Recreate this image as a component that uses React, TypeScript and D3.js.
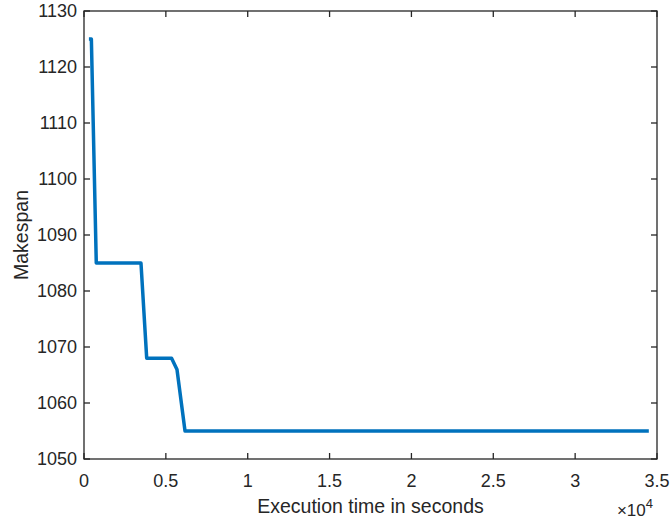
import React from 'react';
import * as d3 from 'd3';

// Makespan trace (time in seconds)
const timeValues = [300, 450, 750, 3480, 3830, 5350, 5680, 6170, 34500];
const makespanValues = [1125, 1125, 1085, 1085, 1068, 1068, 1066, 1055, 1055];
const xTickValues = [0, 5000, 10000, 15000, 20000, 25000, 30000, 35000];
const xTickLabels = ['0', '0.5', '1', '1.5', '2', '2.5', '3', '3.5'];
const yTickValues = [1050, 1060, 1070, 1080, 1090, 1100, 1110, 1120, 1130];

const App = () => {
  const width = 670;
  const height = 525;
  const margin = { top: 11, right: 13, bottom: 66, left: 84 };
  const innerW = width - margin.left - margin.right;
  const innerH = height - margin.top - margin.bottom;

  const x = d3.scaleLinear().domain([0, 35000]).range([0, innerW]);
  const y = d3.scaleLinear().domain([1050, 1130]).range([innerH, 0]);

  const points = timeValues.map((t, i) => [t, makespanValues[i]] as [number, number]);
  const line = d3
    .line<[number, number]>()
    .x((d) => x(d[0]))
    .y((d) => y(d[1]));

  const axisColor = '#262626';
  const font = '"Liberation Sans", Arial, Helvetica, sans-serif';
  const tickLen = 6;

  return (
    <svg
      width={width}
      height={height}
      style={{ position: 'absolute', left: 0, top: 0, background: '#fff' }}
      fontFamily={font}
    >
      <g transform={`translate(${margin.left},${margin.top})`}>
        <path
          d={line(points) || ''}
          fill="none"
          stroke="#0072BD"
          strokeWidth={3.5}
          strokeLinejoin="round"
        />
        <rect x={0} y={0} width={innerW} height={innerH} fill="none" stroke={axisColor} strokeWidth={1.3} />
        {xTickValues.map((v, i) => (
          <g key={`x${v}`}>
            <line x1={x(v)} x2={x(v)} y1={innerH} y2={innerH - tickLen} stroke={axisColor} strokeWidth={1.3} />
            <line x1={x(v)} x2={x(v)} y1={0} y2={tickLen} stroke={axisColor} strokeWidth={1.3} />
            <text x={x(v)} y={innerH + 28} textAnchor="middle" fontSize={18} fill={axisColor}>
              {xTickLabels[i]}
            </text>
          </g>
        ))}
        {yTickValues.map((v) => (
          <g key={`y${v}`}>
            <line x1={0} x2={tickLen} y1={y(v)} y2={y(v)} stroke={axisColor} strokeWidth={1.3} />
            <line x1={innerW} x2={innerW - tickLen} y1={y(v)} y2={y(v)} stroke={axisColor} strokeWidth={1.3} />
            <text x={-7} y={y(v)} dy="0.35em" textAnchor="end" fontSize={18} fill={axisColor}>
              {v}
            </text>
          </g>
        ))}
        <text x={innerW / 2} y={innerH + 54} textAnchor="middle" fontSize={19.5} fill={axisColor}>
          Execution time in seconds
        </text>
        <text x={innerW - 4} y={innerH + 57} textAnchor="end" fontSize={17} fill={axisColor}>
          <tspan>×10</tspan>
          <tspan dy={-8} fontSize={13}>4</tspan>
        </text>
        <text
          transform={`translate(${-56},${innerH / 2}) rotate(-90)`}
          textAnchor="middle"
          fontSize={19.5}
          fill={axisColor}
        >
          Makespan
        </text>
      </g>
    </svg>
  );
};

export default App;
